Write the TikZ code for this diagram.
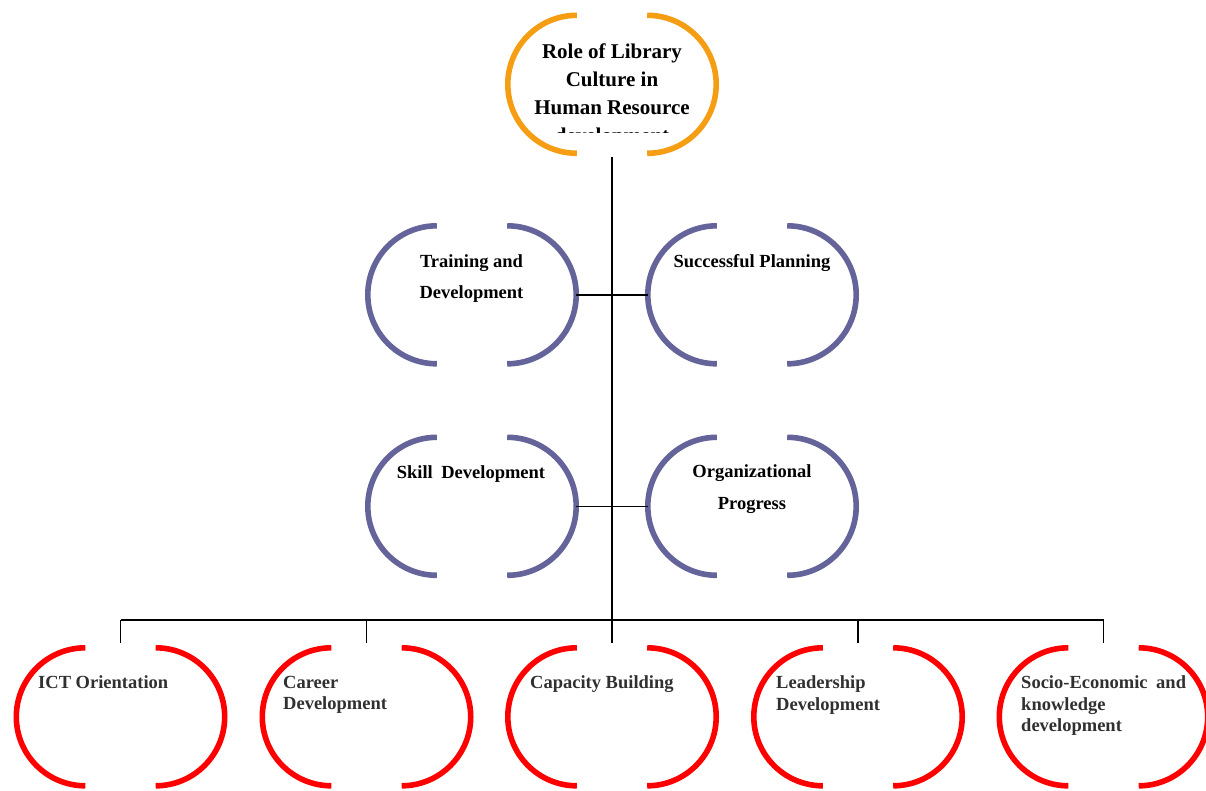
\documentclass[tikz,border=0pt]{standalone}
\usepackage{fontspec}
\setmainfont{Liberation Serif}
\definecolor{orangec}{RGB}{245,158,20}
\definecolor{purplec}{RGB}{100,100,155}
\definecolor{redc}{RGB}{255,0,0}
\definecolor{textgray}{RGB}{48,48,48}
\tikzset{
  ring/.style={minimum width=208pt, minimum height=138pt, inner sep=0pt, draw=none},
  arcline/.style={line width=5.6pt},
  trunk/.style={line width=2.6pt, black},
  conn/.style={line width=1.6pt, black},
  toptext/.style={inner sep=0pt, align=center, anchor=north, font=\bfseries\fontsize{21}{28}\selectfont},
  ptext/.style={inner sep=0pt, align=center, anchor=north, font=\bfseries\fontsize{18.5}{31.5}\selectfont},
  rtext/.style={inner sep=0pt, align=left, anchor=north west, text=textgray, font=\bfseries\fontsize{18.5}{21.3}\selectfont},
}
\begin{document}
\begin{tikzpicture}[x=1pt,y=-1pt]
\useasboundingbox (0,0) rectangle (1206,791);
% ring nodes
\node[ring] (top) at (612,84.5) {};
\node[ring] (td) at (472,295) {};
\node[ring] (sp) at (752,295) {};
\node[ring] (sd) at (472,506.5) {};
\node[ring] (op) at (752,506.5) {};
\node[ring] (ict) at (120.5,717) {};
\node[ring] (cd) at (366.5,717) {};
\node[ring] (cb) at (612,717) {};
\node[ring] (ld) at (858,717) {};
\node[ring] (se) at (1103.5,717) {};
\foreach \n/\c in {top/orangec, td/purplec, sp/purplec, sd/purplec, op/purplec, ict/redc, cd/redc, cb/redc, ld/redc, se/redc}{
  \draw[arcline, draw=\c] ([xshift=69pt]\n.north west) arc[start angle=90, end angle=270, radius=69pt];
  \draw[arcline, draw=\c] ([xshift=-69pt]\n.north east) arc[start angle=90, end angle=-90, radius=69pt];
}
% connectors
\coordinate (br) at (612,620);
\draw[trunk] ([yshift=-3pt]top.south) -- (br);
\draw[conn] (td.east) -- (sp.west);
\draw[conn] (sd.east) -- (op.west);
\draw[conn] (ict.north |- br) -- (se.north |- br);
\foreach \n in {ict, cd, cb, ld, se}{
  \draw[conn] (\n.north |- br) -- ([yshift=5pt]\n.north);
}
% texts
\begin{scope}
\clip (400,0) rectangle (820,133);
\node[toptext] (toplabel) at (612,43.2) {Role of Library\\Culture in\\Human Resource\\development};
\end{scope}
\node[ptext] (tdlabel) at (471.5,254.3) {Training and\\Development};
\node[ptext] (splabel) at (752,254.3) {Successful Planning};
\node[ptext] (sdlabel) at (471,465.3) {Skill\hspace{8.5pt}Development};
\node[ptext] (oplabel) at (752,464.6) {Organizational\\Progress};
\node[rtext] (ictlabel) at (38,675.9) {ICT Orientation};
\node[rtext] (cdlabel) at (283,675.9) {Career\\Development};
\node[rtext] (cblabel) at (530,675.9) {Capacity Building};
\node[rtext] (ldlabel) at (776,675.9) {Leadership\\Development};
\node[rtext] (selabel) at (1021,675.9) {Socio-Economic\hspace{4pt} and\\knowledge\\development};
\end{tikzpicture}
\end{document}
